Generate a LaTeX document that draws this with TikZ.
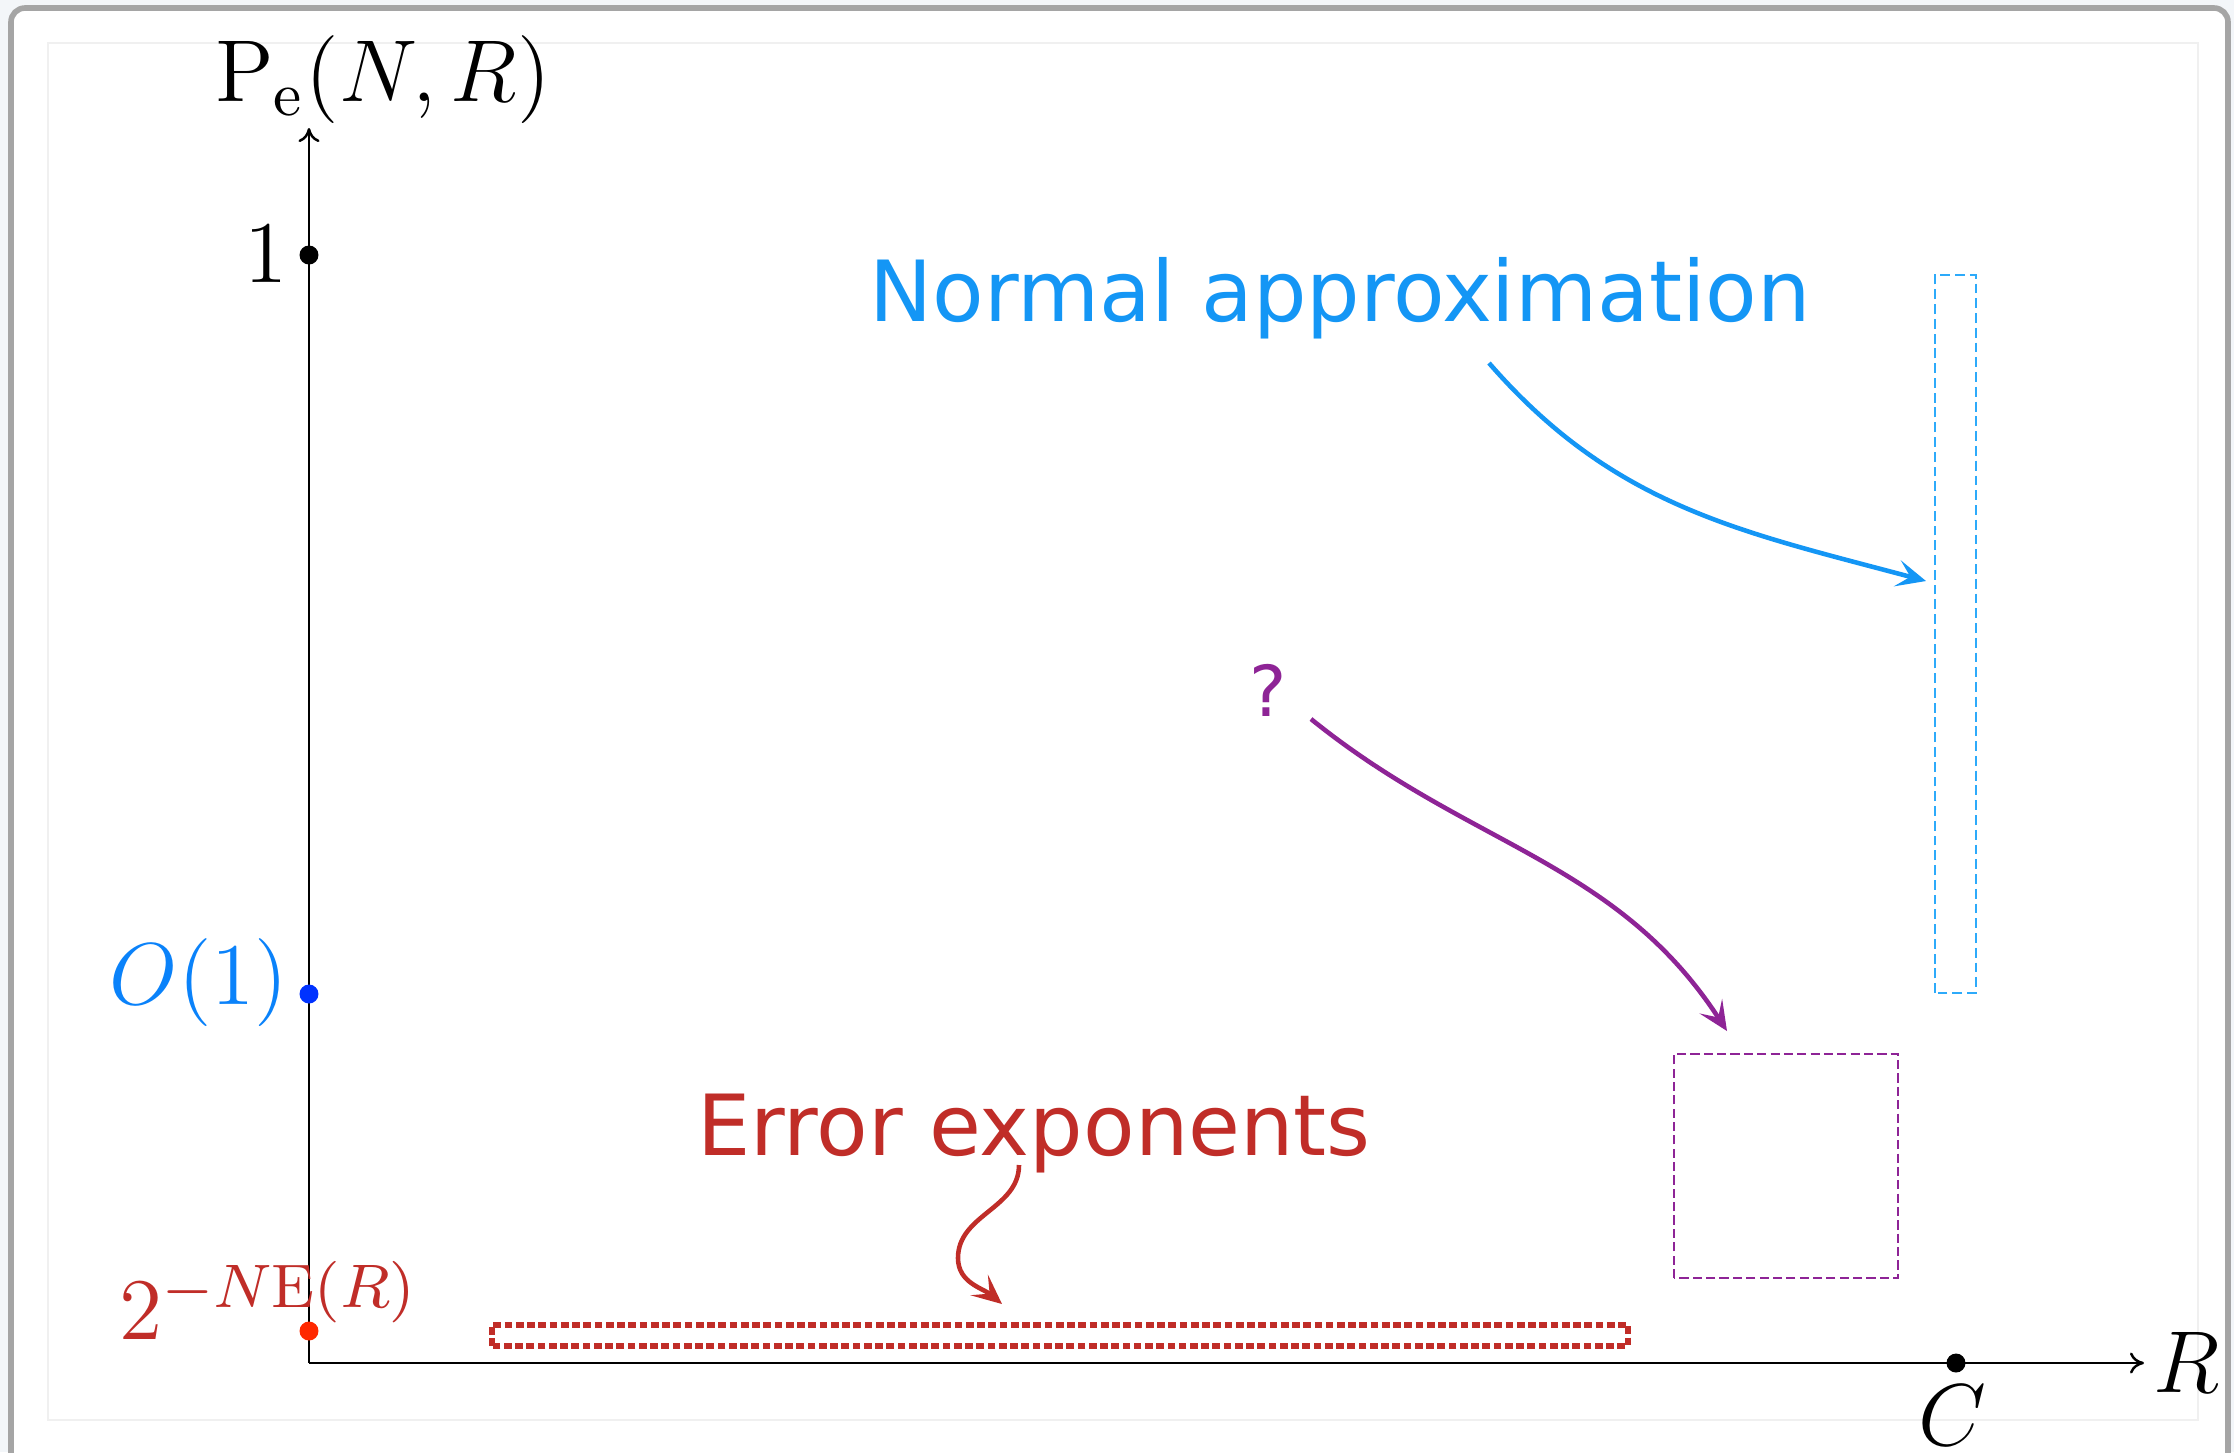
\RequirePackage{fix-cm}
\documentclass[tikz,border=0pt]{standalone}
\usepackage{fontspec}
\usepackage{amsmath}
\usetikzlibrary{arrows.meta}
\newfontfamily\annfont{DejaVu Sans}

\definecolor{naBlue}{RGB}{20,150,245}
\definecolor{naBox}{RGB}{45,170,250}
\definecolor{oBlue}{RGB}{10,130,250}
\definecolor{oDot}{RGB}{0,50,255}
\definecolor{eeRed}{RGB}{192,45,40}
\definecolor{eeDot}{RGB}{255,40,0}
\definecolor{qPurple}{RGB}{142,36,150}
\definecolor{pageBg}{RGB}{243,246,249}
\definecolor{cardEdge}{RGB}{165,165,165}
\definecolor{cardInner}{RGB}{240,240,240}

\begin{document}
\begin{tikzpicture}[x=0.5cm, y=0.5cm,
        every node/.style={inner sep=0pt},
        mathlbl/.style={font=\fontsize{12.5}{15}\selectfont},
        annot/.style={font=\annfont\fontsize{12}{14}\selectfont},
        dot/.style={circle, fill, minimum size=2.7pt},
        axis/.style={line width=0.35pt, -{To[length=2pt, width=3pt]}},
        curvy/.style={line width=0.65pt, -{Stealth[length=4.2pt, width=3.8pt, inset=1.9pt]}}]
    % frame of the screenshot
    \useasboundingbox (-3.09,-0.89) rectangle (19.25,13.63);
    \fill[pageBg] (-3.09,-0.89) rectangle (19.25,13.63);
    \draw[cardEdge, line width=0.8pt, fill=white, rounded corners=2pt] (-2.98,-1.5) rectangle (19.19,13.55);
    \draw[cardInner, line width=0.3pt] (-2.61,-0.57) rectangle (18.89,13.20);

    % axes
    \coordinate (O) at (0,0);
    \draw[axis] (O) -- (0,12.35) coordinate (ytip);
    \draw[axis] (O) -- (18.35,0) coordinate (xtip);
    \node[mathlbl] (ylab) at (0.74,12.83) {$\mathrm{P_e}(N,R)$};
    \node[mathlbl] (xlab) at (18.78,0.01) {$R$};

    % marks on the axes
    \node[dot] (cap) at (16.47,0) {};
    \node[mathlbl] (caplab) at (16.43,-0.52) {$C$};
    \node[dot] (one) at (0,11.08) {};
    \node[mathlbl] (onelab) at (-0.43,11.09) {$1$};
    \node[dot, oDot] (ord) at (0,3.69) {};
    \node[mathlbl, oBlue] (ordlab) at (-1.10,3.80) {$O(1)$};
    \node[dot, eeDot] (expo) at (0,0.32) {};
    \node[mathlbl, eeRed] (expolab) at (-0.40,0.63) {$2^{-N\mathrm{E}(R)}$};

    % regimes
    \draw[naBox, line width=0.35pt, dash pattern=on 1.4pt off 0.7pt] (16.26,3.70) rectangle (16.67,10.88);
    \draw[qPurple, line width=0.35pt, dash pattern=on 1.3pt off 0.6pt] (13.65,0.85) rectangle (15.89,3.09);
    \draw[eeRed, line width=0.8pt, dash pattern=on 1.1pt off 0.5pt] (1.83,0.17) rectangle (13.19,0.38);

    % labels with their arrows
    \node[annot, naBlue] (napprox) at (10.31,10.65) {Normal approximation};
    \coordinate (naFrom) at (11.80,10.00);
    \coordinate (naTo) at (16.17,7.82);
    \draw[curvy, naBlue] (naFrom) to[out=-49, in=165] (naTo);

    \node[qPurple, font=\annfont\fontsize{10}{12}\selectfont] (quest) at (9.59,6.73) {?};
    \coordinate (qFrom) at (10.02,6.44);
    \coordinate (qTo) at (14.18,3.32);
    \draw[curvy, qPurple] (qFrom) to[out=-39, in=123] (qTo);

    \node[annot, eeRed] (errexp) at (7.25,2.30) {Error exponents};
    \coordinate (eeFrom) at (7.10,1.98);
    \coordinate (eeBend) at (6.49,1.05);
    \coordinate (eeTo) at (6.93,0.59);
    \draw[curvy, eeRed] (eeFrom) to[out=-90, in=90] (eeBend) to[out=-90, in=140] (eeTo);
\end{tikzpicture}
\end{document}
